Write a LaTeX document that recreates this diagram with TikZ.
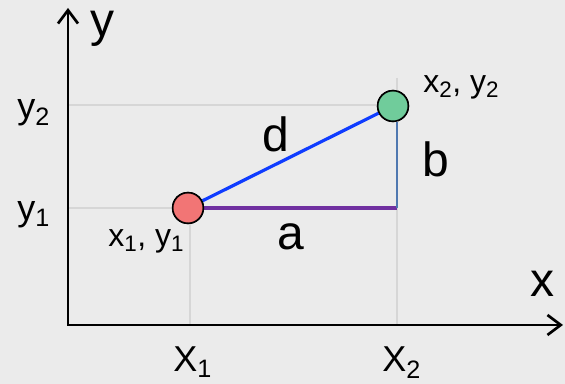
\documentclass[tikz,border=0pt]{standalone}
\usepackage{fontspec}
\setmainfont{Liberation Sans}
\usepackage{xcolor}
\usetikzlibrary{arrows.meta,positioning,calc}

\definecolor{bgGray}{HTML}{EBEBEB}
\definecolor{gridGray}{HTML}{D6D6D6}
\definecolor{ptRed}{HTML}{F27575}
\definecolor{ptGreen}{HTML}{70CC9B}
\definecolor{lineD}{HTML}{0F3CFF}
\definecolor{lineA}{HTML}{7030A0}
\definecolor{lineB}{HTML}{4F78B0}

\begin{document}
\begin{tikzpicture}[
        x=0.75pt, y=-0.75pt,
        axis/.style={draw=black, line width=2pt, -{Straight Barb[length=10pt,width=15pt,line width=2pt]}},
        gridline/.style={draw=gridGray, line width=0.8pt},
        seg/.style={line width=2.4pt},
        pt/.style={circle, draw=black, line width=1.2pt, minimum size=23pt, inner sep=0pt},
        lab/.style={anchor=base west, inner sep=0pt, font=\fontsize{36}{40}\selectfont},
        tick/.style={anchor=base west, inner sep=0pt, font=\fontsize{27}{30}\selectfont},
        ptlab/.style={anchor=base west, inner sep=0pt, font=\fontsize{24}{27}\selectfont}
      ]
      \fill[bgGray] (0,0) rectangle (565,384);
      \useasboundingbox (0,0) rectangle (565,384);

      \coordinate (O) at (68,325);
      \coordinate (ytop) at (68,8);
      \coordinate (xend) at (563,325);
      \coordinate (c) at (397,208);
      \coordinate (gtop) at (397,78);
      \coordinate (gy1) at (68,208);
      \coordinate (gy2) at (68,105);
      \coordinate (gx1) at (190,325);
      \coordinate (gx2) at (397,325);
      \coordinate (gx2h) at (397,105);

      \node[pt, fill=ptRed] (p1) at (188,208) {};
      \node[pt, fill=ptGreen] (p2) at (393,106) {};

      % grid
      \draw[gridline] (gy2) -- (gx2h);
      \draw[gridline] (gy1) -- (p1);
      \draw[gridline] (gtop) -- (gx2);
      \draw[gridline] (p1.south) ++(2,0) -- (gx1);

      % triangle
      \draw[seg, draw=lineA] (p1) -- (c);
      \draw[seg, draw=lineB, line width=2pt] (c) -- (c |- p2.south);
      \draw[seg, draw=lineD] (p1) -- (p2);
      \node[pt, fill=ptRed] at (p1) {};
      \node[pt, fill=ptGreen] at (p2) {};

      % axes
      \draw[axis] (O) -- (ytop);
      \draw[axis] ($(O)+(-1,0)$) -- (xend);

      \node[lab] (ylab) at (90,37) {y};
      \node[lab] (xlab) at (530,297) {x};
      \node[lab] (dlab) at (262,152) {d};
      \node[lab] (blab) at (422,177) {b};
      \node[lab] (alab) at (277,250) {a};

      \node[tick] (x1lab) at (173,372) {X\textsubscript{1}};
      \node[tick] (x2lab) at (382,372) {X\textsubscript{2}};
      \node[tick] (y2lab) at (17,119) {y\textsubscript{2}};
      \node[tick] (y1lab) at (17,221) {y\textsubscript{1}};

      \node[ptlab] (p1lab) at (108,247) {x\textsubscript{1}, y\textsubscript{1}};
      \node[ptlab] (p2lab) at (423,93) {x\textsubscript{2}, y\textsubscript{2}};
    \end{tikzpicture}
\end{document}
